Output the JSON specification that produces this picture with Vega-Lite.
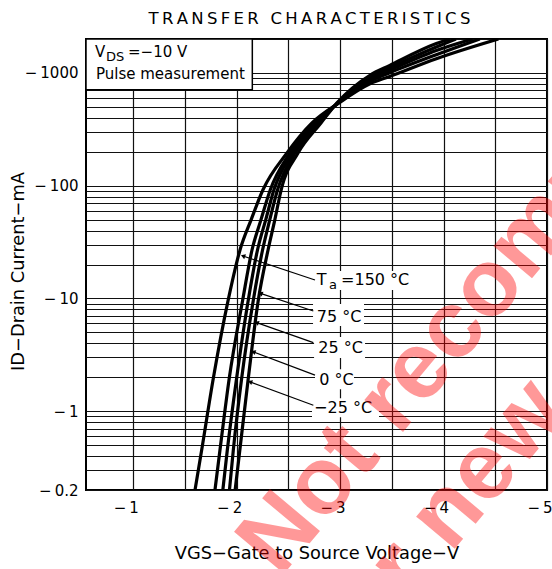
{
  "$schema": "https://vega.github.io/schema/vega-lite/v6.json",
  "width": 461,
  "height": 451,
  "autosize": {"type": "none"},
  "padding": {"left": 86, "top": 39, "right": 5, "bottom": 79},
  "background": "white",
  "config": {"view": {"stroke": "black", "strokeWidth": 2}, "font": "DejaVu Sans"},
  "datasets": {
    "curves": [
      {"t": "150", "v": 1.597, "i": 0.2}, {"t": "150", "v": 1.661, "i": 0.45}, {"t": "150", "v": 1.774, "i": 1.96}, {"t": "150", "v": 1.918, "i": 9.7}, {"t": "150", "v": 2.032, "i": 26.9}, {"t": "150", "v": 2.14, "i": 50}, {"t": "150", "v": 2.254, "i": 92}, {"t": "150", "v": 2.486, "i": 195}, {"t": "150", "v": 2.728, "i": 360}, {"t": "150", "v": 2.99, "i": 543}, {"t": "150", "v": 3.288, "i": 802}, {"t": "150", "v": 3.48, "i": 931}, {"t": "150", "v": 3.93, "i": 1337}, {"t": "150", "v": 4.53, "i": 2000},
      {"t": "75", "v": 1.79, "i": 0.2}, {"t": "75", "v": 1.838, "i": 0.45}, {"t": "75", "v": 1.928, "i": 1.96}, {"t": "75", "v": 2.058, "i": 9.7}, {"t": "75", "v": 2.148, "i": 26.9}, {"t": "75", "v": 2.235, "i": 50}, {"t": "75", "v": 2.325, "i": 92}, {"t": "75", "v": 2.515, "i": 195}, {"t": "75", "v": 2.752, "i": 360}, {"t": "75", "v": 2.985, "i": 543}, {"t": "75", "v": 3.288, "i": 844}, {"t": "75", "v": 3.48, "i": 1004}, {"t": "75", "v": 3.93, "i": 1450}, {"t": "75", "v": 4.35, "i": 2000},
      {"t": "25", "v": 1.866, "i": 0.2}, {"t": "25", "v": 1.909, "i": 0.45}, {"t": "25", "v": 1.999, "i": 1.96}, {"t": "25", "v": 2.112, "i": 9.7}, {"t": "25", "v": 2.201, "i": 26.9}, {"t": "25", "v": 2.281, "i": 50}, {"t": "25", "v": 2.36, "i": 92}, {"t": "25", "v": 2.54, "i": 195}, {"t": "25", "v": 2.777, "i": 360}, {"t": "25", "v": 2.98, "i": 543}, {"t": "25", "v": 3.288, "i": 879}, {"t": "25", "v": 3.48, "i": 1057}, {"t": "25", "v": 3.93, "i": 1580}, {"t": "25", "v": 4.28, "i": 2000},
      {"t": "0", "v": 1.93, "i": 0.2}, {"t": "0", "v": 1.967, "i": 0.45}, {"t": "0", "v": 2.048, "i": 1.96}, {"t": "0", "v": 2.161, "i": 9.7}, {"t": "0", "v": 2.25, "i": 26.9}, {"t": "0", "v": 2.32, "i": 50}, {"t": "0", "v": 2.395, "i": 92}, {"t": "0", "v": 2.564, "i": 195}, {"t": "0", "v": 2.796, "i": 360}, {"t": "0", "v": 2.975, "i": 543}, {"t": "0", "v": 3.288, "i": 916}, {"t": "0", "v": 3.48, "i": 1112}, {"t": "0", "v": 3.93, "i": 1700}, {"t": "0", "v": 4.12, "i": 2000},
      {"t": "-25", "v": 1.985, "i": 0.2}, {"t": "-25", "v": 2.03, "i": 0.45}, {"t": "-25", "v": 2.112, "i": 1.96}, {"t": "-25", "v": 2.209, "i": 9.7}, {"t": "-25", "v": 2.303, "i": 26.9}, {"t": "-25", "v": 2.369, "i": 50}, {"t": "-25", "v": 2.43, "i": 92}, {"t": "-25", "v": 2.593, "i": 195}, {"t": "-25", "v": 2.815, "i": 360}, {"t": "-25", "v": 2.97, "i": 543}, {"t": "-25", "v": 3.288, "i": 954}, {"t": "-25", "v": 3.48, "i": 1166}, {"t": "-25", "v": 3.93, "i": 1820}, {"t": "-25", "v": 4.06, "i": 2000}
    ],
    "box": [{"v": 0.543, "v2": 2.151, "i": 2000, "i2": 709}],
    "bg": [
      {"v": 2.738, "v2": 3.696, "i": 17.5, "i2": 11.88},
      {"v": 2.738, "v2": 3.231, "i": 8.93, "i2": 5.69},
      {"v": 2.748, "v2": 3.241, "i": 4.54, "i2": 2.96},
      {"v": 2.757, "v2": 3.134, "i": 2.36, "i2": 1.567},
      {"v": 2.728, "v2": 3.376, "i": 1.305, "i2": 0.885}
    ],
    "leaders": [
      {"v": 2.061, "i": 23.8, "v2": 2.757, "i2": 14.57},
      {"v": 2.23, "i": 11.1, "v2": 2.741, "i2": 7.73},
      {"v": 2.193, "i": 6.11, "v2": 2.741, "i2": 4.06},
      {"v": 2.161, "i": 3.36, "v2": 2.757, "i2": 2.088},
      {"v": 2.129, "i": 1.82, "v2": 2.741, "i2": 1.13}
    ],
    "heading": [
      {"v": 2.704, "i": 2735, "txt": "T\u2009R\u2009A\u2009N\u2009S\u2009F\u2009E\u2009R\u2009 \u2009C\u2009H\u2009A\u2009R\u2009A\u2009C\u2009T\u2009E\u2009R\u2009I\u2009S\u2009T\u2009I\u2009C\u2009S"}
    ],
    "tlabels": [
      {"v": 2.774, "i": 13.15, "txt": "T"},
      {"v": 3.009, "i": 13.15, "txt": "=150 °C"},
      {"v": 2.774, "i": 6.21, "txt": "75 °C"},
      {"v": 2.789, "i": 3.27, "txt": "25 °C"},
      {"v": 2.799, "i": 1.70, "txt": "0 °C"},
      {"v": 2.748, "i": 0.96, "txt": "\u221225 °C"}
    ],
    "boxlabels": [
      {"v": 0.63, "i": 1393, "txt": "V"},
      {"v": 0.949, "i": 1393, "txt": "=\u221210 V"},
      {"v": 0.639, "i": 888, "txt": "Pulse measurement"}
    ],
    "subs": [
      {"v": 2.893, "i": 12.12, "txt": "a"},
      {"v": 0.736, "i": 1283, "txt": "DS"}
    ],
    "stamp": [
      {"v": 2.419, "i": 0.0329, "txt": "Not recommended"},
      {"v": 3.115, "i": 0.00497, "txt": "for new design"}
    ]
  },
  "layer": [
    {
      "data": {"name": "box"},
      "mark": {"type": "rect", "fill": "white", "stroke": "black", "strokeWidth": 1.5},
      "encoding": {
        "x": {
          "field": "v", "type": "quantitative",
          "scale": {"domain": [0.543, 5], "nice": false, "zero": false},
          "axis": {
            "values": [1, 1.5, 2, 2.5, 3, 3.5, 4, 4.5, 5],
            "labelExpr": "datum.value % 1 == 0 ? '\u2212\u2009' + datum.value : ''",
            "grid": true, "gridColor": "#111", "gridWidth": 1.2,
            "ticks": false, "tickSize": 0, "domain": false,
            "labelFont": "DejaVu Sans", "labelFontSize": 15, "labelColor": "black",
            "labelAlign": "right", "labelOffset": 5, "labelPadding": 10,
            "labelFlush": false, "labelOverlap": false, "labelBound": false,
            "title": "VGS\u2212Gate to Source Voltage\u2212V",
            "titleFont": "DejaVu Sans", "titleFontSize": 17.8, "titleFontWeight": "normal", "titleColor": "black",
            "titleY": 63, "titleBaseline": "middle"
          }
        },
        "x2": {"field": "v2"},
        "y": {
          "field": "i", "type": "quantitative",
          "scale": {"type": "log", "domain": [0.2, 2000], "nice": false},
          "axis": {
            "values": [0.2, 0.3, 0.4, 0.5, 0.6, 0.7, 0.8, 0.9, 1, 2, 3, 4, 5, 6, 7, 8, 9, 10, 20, 30, 40, 50, 60, 70, 80, 90, 100, 200, 300, 400, 500, 600, 700, 800, 900, 1000, 2000],
            "labelExpr": "indexof([0.2, 1, 10, 100, 1000], datum.value) >= 0 ? '\u2212\u2009' + format(datum.value, '~g') : ''",
            "grid": true, "gridColor": "#111", "gridWidth": 1.2,
            "ticks": false, "tickSize": 0, "domain": false,
            "labelFont": "DejaVu Sans", "labelFontSize": 15, "labelColor": "black",
            "labelPadding": 8, "labelFlush": false, "labelOverlap": false, "labelBound": false,
            "title": "ID\u2212Drain Current\u2212mA",
            "titleFont": "DejaVu Sans", "titleFontSize": 17.8, "titleFontWeight": "normal", "titleColor": "black",
            "titleX": -68, "titleY": 232, "titleBaseline": "middle", "titleAlign": "center", "titleAngle": 270
          }
        },
        "y2": {"field": "i2"}
      }
    },
    {
      "data": {"name": "bg"},
      "mark": {"type": "rect", "fill": "white"},
      "encoding": {
        "x": {"field": "v", "type": "quantitative", "scale": {"domain": [0.543, 5], "nice": false, "zero": false}},
        "x2": {"field": "v2"},
        "y": {"field": "i", "type": "quantitative", "scale": {"type": "log", "domain": [0.2, 2000], "nice": false}},
        "y2": {"field": "i2"}
      }
    },
    {
      "data": {"name": "leaders"},
      "mark": {"type": "rule", "color": "black", "strokeWidth": 1.2},
      "encoding": {
        "x": {"field": "v", "type": "quantitative", "scale": {"domain": [0.543, 5], "nice": false, "zero": false}},
        "x2": {"field": "v2"},
        "y": {"field": "i", "type": "quantitative", "scale": {"type": "log", "domain": [0.2, 2000], "nice": false}},
        "y2": {"field": "i2"}
      }
    },
    {
      "data": {"name": "leaders"},
      "mark": {"type": "point", "shape": "triangle-left", "filled": true, "size": 26, "angle": 20, "color": "black", "opacity": 1},
      "encoding": {
        "x": {"field": "v", "type": "quantitative", "scale": {"domain": [0.543, 5], "nice": false, "zero": false}},
        "y": {"field": "i", "type": "quantitative", "scale": {"type": "log", "domain": [0.2, 2000], "nice": false}}
      }
    },
    {
      "data": {"name": "curves"},
      "mark": {"type": "line", "color": "black", "strokeWidth": 3.2, "interpolate": "monotone", "clip": true},
      "encoding": {
        "x": {"field": "v", "type": "quantitative", "scale": {"domain": [0.543, 5], "nice": false, "zero": false}},
        "y": {"field": "i", "type": "quantitative", "scale": {"type": "log", "domain": [0.2, 2000], "nice": false}},
        "detail": {"field": "t"}
      }
    },
    {
      "data": {"name": "heading"},
      "mark": {"type": "text", "align": "center", "baseline": "alphabetic", "font": "DejaVu Sans", "fontSize": 16.5, "color": "black"},
      "encoding": {
        "x": {"field": "v", "type": "quantitative", "scale": {"domain": [0.543, 5], "nice": false, "zero": false}},
        "y": {"field": "i", "type": "quantitative", "scale": {"type": "log", "domain": [0.2, 2000], "nice": false}},
        "text": {"field": "txt"}
      }
    },
    {
      "data": {"name": "tlabels"},
      "mark": {"type": "text", "align": "left", "baseline": "alphabetic", "font": "DejaVu Sans", "fontSize": 16, "color": "black"},
      "encoding": {
        "x": {"field": "v", "type": "quantitative", "scale": {"domain": [0.543, 5], "nice": false, "zero": false}},
        "y": {"field": "i", "type": "quantitative", "scale": {"type": "log", "domain": [0.2, 2000], "nice": false}},
        "text": {"field": "txt"}
      }
    },
    {
      "data": {"name": "boxlabels"},
      "mark": {"type": "text", "align": "left", "baseline": "alphabetic", "font": "DejaVu Sans", "fontSize": 15, "color": "black"},
      "encoding": {
        "x": {"field": "v", "type": "quantitative", "scale": {"domain": [0.543, 5], "nice": false, "zero": false}},
        "y": {"field": "i", "type": "quantitative", "scale": {"type": "log", "domain": [0.2, 2000], "nice": false}},
        "text": {"field": "txt"}
      }
    },
    {
      "data": {"name": "subs"},
      "mark": {"type": "text", "align": "left", "baseline": "alphabetic", "font": "DejaVu Sans", "fontSize": 13, "color": "black"},
      "encoding": {
        "x": {"field": "v", "type": "quantitative", "scale": {"domain": [0.543, 5], "nice": false, "zero": false}},
        "y": {"field": "i", "type": "quantitative", "scale": {"type": "log", "domain": [0.2, 2000], "nice": false}},
        "text": {"field": "txt"}
      }
    },
    {
      "data": {"name": "stamp"},
      "mark": {"type": "text", "align": "left", "baseline": "alphabetic", "font": "Liberation Sans", "fontWeight": "bold", "fontSize": 95, "angle": -50, "color": "#ff0000", "opacity": 0.4},
      "encoding": {
        "x": {"field": "v", "type": "quantitative", "scale": {"domain": [0.543, 5], "nice": false, "zero": false}},
        "y": {"field": "i", "type": "quantitative", "scale": {"type": "log", "domain": [0.2, 2000], "nice": false}},
        "text": {"field": "txt"}
      }
    }
  ]
}
